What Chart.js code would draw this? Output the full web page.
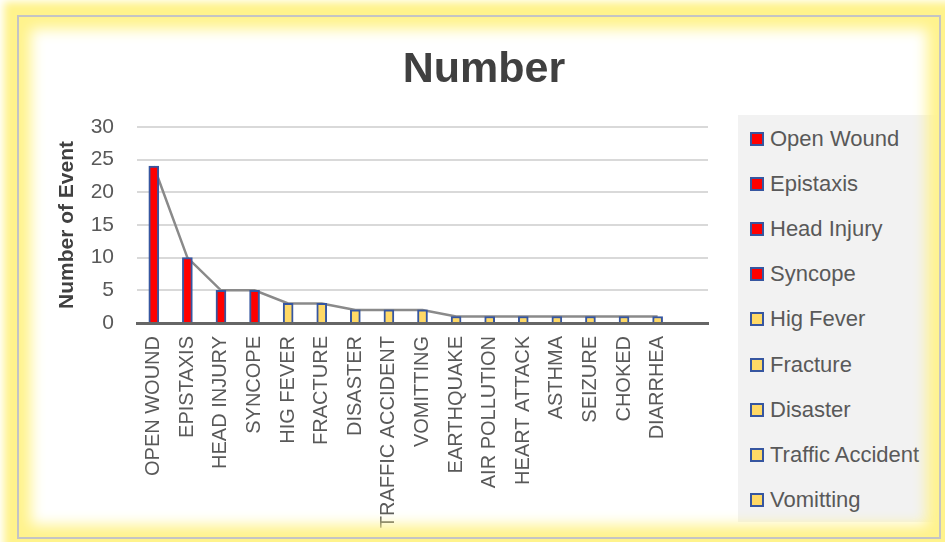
<!DOCTYPE html>
<html>
<head>
<meta charset="utf-8">
<script src="https://cdn.jsdelivr.net/npm/chart.js@4.4.1/dist/chart.umd.min.js"></script>
<style>
  html, body { margin: 0; padding: 0; background: #fff; }
  body { width: 945px; height: 542px; position: relative; overflow: hidden; font-family: "Liberation Sans", Arial, sans-serif; }
  #chart { position: absolute; left: 0; top: 0; }
  #title { position: absolute; left: 0; top: 41px; width: 968px; text-align: center; font-weight: bold; font-size: 43px; line-height: 52px; color: #404040; }
  #legend { position: absolute; left: 738px; top: 115px; width: 202px; height: 407px; background: #f2f2f2; }
  .item { position: absolute; left: 12px; height: 26px; display: flex; align-items: center; font-size: 22px; color: #595959; white-space: nowrap; }
  .swatch { width: 10px; height: 10px; border: 2px solid #3656a0; margin-right: 6px; }
  #frame { position: absolute; left: 17px; top: 15px; width: 920px; height: 520px; border: 2px solid #c4c4c4;
           box-shadow: 0 0 8px 13px #fff38c, inset 0 0 14px 12px #fff38c; pointer-events: none; }
</style>
</head>
<body>
<div id="legend"></div>
<canvas id="chart" width="945" height="542"></canvas>
<div id="title">Number</div>
<div id="frame"></div>
<script>
// categories on the x axis (the last one is the empty slot Excel leaves at the end)
const categories = ['OPEN WOUND', 'EPISTAXIS', 'HEAD INJURY', 'SYNCOPE', 'HIG FEVER', 'FRACTURE', 'DISASTER',
  'TRAFFIC ACCIDENT', 'VOMITTING', 'EARTHQUAKE', 'AIR POLLUTION', 'HEART ATTACK', 'ASTHMA', 'SEIZURE',
  'CHOKED', 'DIARRHEA', ''];
const eventCounts = [24, 10, 5, 5, 3, 3, 2, 2, 2, 1, 1, 1, 1, 1, 1, 1, null];
// legend only shows the first entries (it is cut off in the original)
const legendNames = ['Open Wound', 'Epistaxis', 'Head Injury', 'Syncope', 'Hig Fever', 'Fracture',
  'Disaster', 'Traffic Accident', 'Vomitting'];
const yTicks = [0, 5, 10, 15, 20, 25, 30];

const RED = '#ff0000';
const YELLOW = '#ffd966';
const fillColors = eventCounts.map(v => (v >= 5 ? RED : YELLOW));

// legend
const legendEl = document.getElementById('legend');
legendNames.forEach((name, i) => {
  const item = document.createElement('div');
  item.className = 'item';
  item.style.top = (11 + i * 45.1) + 'px';
  const sw = document.createElement('span');
  sw.className = 'swatch';
  sw.style.background = fillColors[i];
  item.appendChild(sw);
  item.appendChild(document.createTextNode(name));
  legendEl.appendChild(item);
});

const ctx = document.getElementById('chart').getContext('2d');
new Chart(ctx, {
  data: {
    labels: categories,
    datasets: [
      {
        type: 'bar',
        data: eventCounts,
        backgroundColor: fillColors,
        borderColor: '#3656a0',
        borderWidth: 2,
        barThickness: 10,
        order: 1
      },
      {
        type: 'line',
        data: eventCounts,
        borderColor: '#8a8a8a',
        borderWidth: 2.5,
        pointRadius: 0,
        tension: 0,
        order: 2
      }
    ]
  },
  options: {
    responsive: false,
    animation: false,
    layout: { padding: { left: 51, right: 237, top: 127, bottom: 0 } },
    plugins: {
      legend: { display: false },
      tooltip: { enabled: false }
    },
    scales: {
      x: {
        grid: { display: false, drawTicks: false },
        border: { color: '#666666', width: 3 },
        ticks: {
          minRotation: 90, maxRotation: 90, autoSkip: false, padding: 13,
          color: '#595959', font: { family: 'Liberation Sans', size: 20 }
        },
        afterFit: s => { s.height = 219; }
      },
      y: {
        min: yTicks[0],
        max: yTicks[yTicks.length - 1],
        grid: { color: '#d9d9d9', lineWidth: 2, drawTicks: false },
        border: { display: false },
        ticks: {
          stepSize: yTicks[1] - yTicks[0], padding: 23,
          color: '#595959', font: { family: 'Liberation Sans', size: 21 }
        },
        title: {
          display: true, text: 'Number of Event', color: '#404040',
          font: { family: 'Liberation Sans', size: 21, weight: 'bold' }
        },
        afterFit: s => { s.width = 86; }
      }
    }
  }
});
</script>
</body>
</html>
